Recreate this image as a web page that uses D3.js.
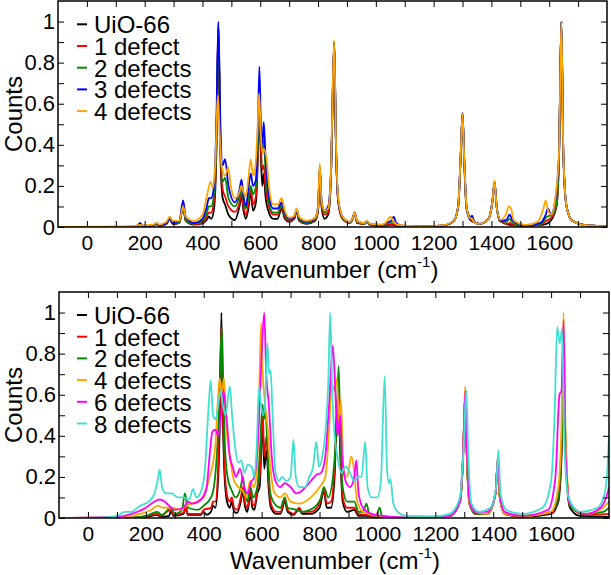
<!DOCTYPE html>
<html><head><meta charset="utf-8">
<script src="https://cdn.jsdelivr.net/npm/d3@7"></script>
<style>
body{margin:0;background:#fff}
svg{display:block}
text{font-family:"Liberation Sans",Arial,Helvetica,sans-serif;fill:#000}
</style>
</head><body>
<svg id="c" width="611" height="575"></svg>
<script>
// ---------- tick values ----------
const xMajorTicks = [0, 200, 400, 600, 800, 1000, 1200, 1400, 1600];
const xMinorTicks = [100, 300, 500, 700, 900, 1100, 1300, 1500, 1700];
const yMajorTicks = [0, 0.2, 0.4, 0.6, 0.8, 1];
const yMinorTicks = [0.1, 0.3, 0.5, 0.7, 0.9];

// ---------- top panel ----------
const topNames = ["UiO-66", "1 defect", "2 defects", "3 defects", "4 defects"];
const topColors = ["#000000", "#ff0000", "#008b00", "#0000ff", "#ffa500"];

const topUiO66 = [[-100,0],[150,0],[175,0.004],[184,0.015],[192,0.004],[230,0.006],[241,0.015],[250,0.006],[275,0.015],[287,0.04],[297,0.014],[320,0.02],[333,0.1],[342,0.03],[370,0.012],[400,0.018],[415,0.035],[422,0.05],[430,0.04],[440,0.09],[448,0.35],[455,0.96],[462,0.35],[470,0.14],[478,0.11],[490,0.06],[512,0.034],[528,0.1],[535,0.15],[542,0.08],[550,0.04],[560,0.1],[567,0.17],[575,0.08],[585,0.12],[592,0.35],[597,0.6],[602,0.35],[607,0.2],[612,0.26],[618,0.15],[630,0.07],[645,0.04],[660,0.04],[674,0.09],[685,0.04],[700,0.025],[718,0.04],[726,0.08],[734,0.03],[760,0.015],[790,0.03],[800,0.08],[806,0.29],[812,0.1],[822,0.04],[835,0.06],[845,0.25],[850,0.6],[856,0.9],[862,0.4],[870,0.12],[885,0.04],[910,0.02],[920,0.04],[927,0.07],[935,0.02],[960,0.015],[968,0.025],[980,0.01],[1020,0.005],[1055,0.012],[1080,0.004],[1150,0.002],[1230,0.006],[1270,0.03],[1285,0.1],[1293,0.32],[1300,0.55],[1306,0.32],[1314,0.09],[1330,0.03],[1360,0.015],[1390,0.04],[1403,0.12],[1411,0.22],[1418,0.1],[1430,0.03],[1463,0.01],[1520,0.005],[1570,0.01],[1590,0.015],[1610,0.04],[1625,0.1],[1634,0.35],[1642,1.0],[1649,0.35],[1660,0.1],[1680,0.03],[1720,0.01],[1800,0.003]];

const top1Defect = [[-100,0],[150,0],[175,0.004],[184,0.015],[192,0.004],[230,0.006],[241,0.015],[250,0.006],[275,0.015],[287,0.04],[297,0.015],[320,0.02],[333,0.1],[342,0.03],[370,0.014],[400,0.02],[415,0.05],[422,0.07],[430,0.07],[440,0.13],[448,0.4],[455,0.98],[462,0.4],[470,0.18],[478,0.15],[490,0.1],[512,0.074],[528,0.12],[535,0.17],[542,0.1],[550,0.06],[560,0.12],[567,0.19],[575,0.11],[585,0.15],[592,0.38],[597,0.62],[602,0.4],[607,0.28],[612,0.3],[618,0.2],[630,0.1],[645,0.06],[660,0.06],[674,0.1],[685,0.05],[700,0.03],[718,0.045],[726,0.085],[734,0.035],[760,0.018],[790,0.035],[800,0.08],[806,0.29],[812,0.11],[822,0.06],[835,0.07],[845,0.26],[850,0.6],[856,0.9],[862,0.4],[870,0.12],[885,0.04],[910,0.02],[920,0.04],[927,0.07],[935,0.02],[960,0.015],[968,0.025],[980,0.01],[1020,0.006],[1055,0.015],[1080,0.005],[1150,0.002],[1230,0.006],[1270,0.03],[1285,0.1],[1293,0.32],[1300,0.55],[1306,0.32],[1314,0.09],[1330,0.035],[1360,0.015],[1390,0.04],[1403,0.12],[1411,0.22],[1418,0.1],[1430,0.03],[1455,0.015],[1463,0.02],[1472,0.012],[1520,0.005],[1570,0.012],[1590,0.03],[1610,0.05],[1625,0.1],[1634,0.35],[1642,1.0],[1649,0.35],[1660,0.1],[1680,0.03],[1720,0.01],[1800,0.003]];

const top2Defects = [[-100,0],[150,0],[175,0.005],[184,0.016],[192,0.005],[230,0.007],[241,0.016],[250,0.007],[275,0.016],[287,0.04],[297,0.016],[320,0.022],[333,0.1],[342,0.035],[370,0.016],[400,0.03],[415,0.07],[422,0.1],[430,0.1],[440,0.16],[448,0.42],[455,0.99],[462,0.42],[470,0.22],[478,0.24],[490,0.14],[512,0.1],[528,0.15],[535,0.19],[542,0.13],[550,0.09],[560,0.15],[567,0.2],[575,0.16],[585,0.2],[592,0.4],[597,0.6],[602,0.45],[607,0.36],[612,0.42],[618,0.28],[630,0.12],[645,0.07],[660,0.07],[674,0.11],[685,0.06],[700,0.035],[718,0.05],[726,0.085],[734,0.04],[760,0.02],[790,0.04],[800,0.09],[806,0.29],[812,0.12],[822,0.07],[835,0.09],[845,0.27],[850,0.6],[856,0.9],[862,0.4],[870,0.13],[885,0.045],[910,0.022],[920,0.045],[927,0.07],[935,0.025],[960,0.016],[968,0.026],[980,0.012],[1020,0.008],[1050,0.025],[1062,0.025],[1080,0.006],[1150,0.002],[1230,0.006],[1270,0.03],[1285,0.1],[1293,0.32],[1300,0.55],[1306,0.32],[1314,0.09],[1330,0.04],[1360,0.015],[1390,0.04],[1403,0.12],[1411,0.22],[1418,0.1],[1430,0.03],[1452,0.025],[1463,0.04],[1474,0.02],[1520,0.006],[1570,0.015],[1592,0.05],[1610,0.06],[1625,0.11],[1634,0.35],[1642,1.0],[1649,0.35],[1660,0.1],[1680,0.03],[1720,0.01],[1800,0.003]];

const top3Defects = [[-100,0],[150,0],[175,0.006],[184,0.02],[192,0.006],[230,0.008],[241,0.018],[250,0.008],[275,0.018],[287,0.042],[297,0.02],[320,0.03],[333,0.13],[342,0.05],[370,0.02],[400,0.04],[415,0.1],[422,0.14],[430,0.14],[440,0.2],[448,0.5],[455,1.0],[462,0.5],[470,0.3],[478,0.33],[490,0.2],[512,0.12],[528,0.18],[535,0.23],[542,0.15],[550,0.1],[560,0.2],[567,0.26],[575,0.2],[585,0.23],[592,0.5],[597,0.78],[602,0.5],[607,0.4],[612,0.51],[618,0.35],[630,0.15],[645,0.09],[660,0.09],[674,0.12],[685,0.07],[700,0.04],[718,0.05],[726,0.085],[734,0.045],[760,0.025],[790,0.045],[800,0.1],[806,0.29],[812,0.13],[822,0.08],[835,0.1],[845,0.28],[850,0.6],[856,0.9],[862,0.4],[870,0.13],[885,0.05],[910,0.025],[920,0.045],[927,0.07],[935,0.03],[960,0.018],[968,0.028],[980,0.014],[1020,0.01],[1045,0.025],[1053,0.03],[1062,0.05],[1070,0.02],[1090,0.006],[1150,0.002],[1230,0.006],[1270,0.03],[1285,0.1],[1293,0.33],[1300,0.555],[1306,0.33],[1314,0.1],[1324,0.04],[1333,0.055],[1342,0.02],[1360,0.015],[1390,0.04],[1403,0.12],[1411,0.22],[1418,0.1],[1430,0.03],[1452,0.035],[1463,0.06],[1474,0.03],[1520,0.008],[1570,0.02],[1588,0.06],[1596,0.09],[1606,0.06],[1620,0.12],[1634,0.35],[1642,1.0],[1649,0.35],[1660,0.1],[1680,0.03],[1720,0.01],[1800,0.003]];

const top4Defects = [[-100,0],[50,0.002],[150,0.004],[175,0.008],[184,0.012],[192,0.008],[230,0.012],[241,0.02],[250,0.012],[275,0.025],[287,0.05],[297,0.03],[320,0.03],[333,0.1],[342,0.05],[370,0.03],[400,0.06],[415,0.15],[428,0.22],[436,0.19],[444,0.3],[449,0.5],[453,0.64],[458,0.5],[466,0.3],[478,0.25],[489,0.29],[498,0.2],[512,0.14],[528,0.17],[535,0.2],[542,0.17],[550,0.15],[560,0.25],[567,0.33],[575,0.25],[582,0.28],[590,0.45],[596,0.65],[602,0.45],[607,0.36],[612,0.38],[622,0.33],[630,0.2],[645,0.11],[660,0.11],[674,0.14],[685,0.08],[700,0.045],[718,0.055],[726,0.09],[734,0.05],[760,0.03],[790,0.045],[800,0.1],[806,0.31],[812,0.13],[822,0.08],[835,0.09],[845,0.28],[850,0.62],[856,0.91],[862,0.42],[870,0.14],[885,0.05],[910,0.025],[920,0.045],[927,0.07],[935,0.03],[960,0.018],[968,0.03],[980,0.015],[1020,0.012],[1040,0.03],[1050,0.05],[1060,0.03],[1075,0.01],[1150,0.003],[1230,0.008],[1270,0.03],[1285,0.1],[1293,0.33],[1300,0.55],[1306,0.33],[1314,0.1],[1324,0.045],[1333,0.04],[1342,0.02],[1360,0.015],[1390,0.04],[1403,0.12],[1411,0.225],[1418,0.1],[1430,0.035],[1450,0.06],[1460,0.1],[1468,0.09],[1478,0.03],[1520,0.01],[1560,0.025],[1580,0.09],[1588,0.13],[1596,0.08],[1608,0.06],[1620,0.13],[1634,0.36],[1642,1.0],[1649,0.36],[1660,0.1],[1680,0.03],[1720,0.01],[1800,0.003]];

// ---------- bottom panel ----------
const bottomNames = ["UiO-66", "1 defect", "2 defects", "4 defects", "6 defects", "8 defects"];
const bottomColors = ["#000000", "#ff0000", "#008b00", "#ffa500", "#ff00ff", "#40e0d0"];

const botUiO66 = [[-100,0],[150,0],[200,0.005],[240,0.015],[250,0.005],[280,0.01],[287,0.035],[295,0.01],[330,0.02],[338,0.05],[345,0.015],[390,0.015],[400,0.03],[410,0.015],[425,0.03],[432,0.06],[440,0.05],[450,0.2],[456,0.5],[461,1.0],[466,0.5],[472,0.2],[482,0.07],[490,0.05],[497,0.08],[505,0.03],[515,0.025],[528,0.08],[535,0.13],[542,0.06],[550,0.03],[556,0.07],[562,0.12],[568,0.05],[575,0.04],[585,0.12],[593,0.15],[598,0.3],[603,0.49],[609,0.24],[617,0.33],[624,0.15],[632,0.05],[650,0.02],[665,0.02],[680,0.08],[690,0.03],[710,0.015],[730,0.045],[740,0.02],[770,0.02],[800,0.05],[815,0.13],[825,0.05],[840,0.05],[852,0.2],[860,0.5],[866,0.55],[872,0.3],[880,0.08],[895,0.03],[920,0.04],[935,0.01],[960,0.01],[1000,0.003],[1100,0],[1250,0.01],[1285,0.08],[1296,0.3],[1303,0.6],[1309,0.3],[1318,0.07],[1340,0.02],[1380,0.02],[1408,0.12],[1416,0.28],[1423,0.1],[1440,0.02],[1500,0.005],[1600,0.02],[1625,0.08],[1636,0.3],[1643,0.62],[1650,0.3],[1665,0.05],[1700,0.01],[1800,0.005]];

const bot1Defect = [[-100,0],[150,0.002],[200,0.008],[240,0.02],[250,0.01],[287,0.04],[295,0.015],[330,0.025],[338,0.06],[345,0.02],[390,0.02],[400,0.04],[425,0.05],[432,0.08],[440,0.08],[450,0.25],[456,0.55],[461,0.93],[466,0.55],[472,0.25],[482,0.1],[490,0.08],[497,0.1],[505,0.05],[515,0.04],[528,0.1],[535,0.15],[542,0.08],[550,0.05],[556,0.09],[562,0.13],[568,0.07],[575,0.06],[585,0.14],[593,0.2],[598,0.35],[603,0.55],[609,0.3],[617,0.4],[624,0.2],[632,0.07],[650,0.03],[665,0.03],[680,0.09],[690,0.04],[710,0.02],[730,0.05],[740,0.03],[770,0.03],[800,0.07],[815,0.14],[825,0.07],[840,0.08],[852,0.25],[860,0.55],[866,0.6],[872,0.35],[880,0.1],[895,0.05],[920,0.05],[935,0.02],[960,0.015],[1000,0.005],[1100,0],[1250,0.01],[1285,0.08],[1296,0.3],[1303,0.6],[1309,0.3],[1318,0.07],[1340,0.02],[1380,0.02],[1408,0.12],[1416,0.29],[1423,0.1],[1440,0.02],[1500,0.008],[1600,0.025],[1625,0.1],[1636,0.35],[1643,0.8],[1650,0.35],[1665,0.06],[1720,0.015],[1800,0.02]];

const bot2Defects = [[-100,0],[150,0.002],[200,0.01],[240,0.03],[255,0.015],[287,0.05],[300,0.02],[325,0.04],[335,0.12],[345,0.05],[380,0.04],[400,0.06],[425,0.1],[435,0.15],[445,0.3],[452,0.5],[458,0.8],[463,0.92],[468,0.6],[475,0.3],[485,0.18],[495,0.14],[510,0.1],[528,0.15],[535,0.2],[542,0.13],[550,0.08],[562,0.15],[570,0.1],[585,0.15],[595,0.35],[603,0.55],[608,0.48],[613,0.53],[620,0.35],[630,0.12],[650,0.06],[665,0.05],[680,0.1],[690,0.05],[720,0.04],[740,0.03],[780,0.05],[805,0.1],[815,0.15],[830,0.1],[850,0.25],[860,0.5],[866,0.74],[872,0.4],[880,0.15],[895,0.08],[920,0.08],[935,0.03],[950,0.03],[962,0.07],[972,0.02],[995,0.01],[1008,0.05],[1016,0.01],[1100,0],[1250,0.01],[1285,0.08],[1296,0.3],[1303,0.6],[1309,0.3],[1318,0.07],[1340,0.02],[1380,0.02],[1408,0.12],[1416,0.28],[1423,0.1],[1440,0.02],[1500,0.01],[1600,0.03],[1625,0.1],[1636,0.35],[1644,0.65],[1651,0.3],[1665,0.06],[1720,0.02],[1780,0.03],[1800,0.05]];

const bot4Defects = [[-100,0],[120,0.005],[180,0.02],[220,0.04],[240,0.06],[260,0.05],[290,0.05],[320,0.04],[340,0.06],[360,0.07],[400,0.1],[420,0.2],[430,0.25],[440,0.35],[450,0.6],[455,0.68],[462,0.6],[470,0.68],[478,0.45],[490,0.3],[505,0.18],[520,0.15],[535,0.13],[548,0.1],[560,0.18],[572,0.15],[582,0.2],[590,0.5],[598,0.95],[604,0.7],[612,0.55],[620,0.45],[630,0.25],[645,0.12],[665,0.1],[680,0.12],[700,0.08],[730,0.07],[770,0.1],[800,0.15],[820,0.2],[832,0.4],[842,0.65],[852,0.62],[860,0.68],[868,0.45],[874,0.58],[882,0.25],[895,0.2],[910,0.3],[918,0.25],[930,0.08],[950,0.03],[1000,0.01],[1100,0],[1250,0.01],[1285,0.08],[1296,0.32],[1303,0.64],[1309,0.3],[1318,0.07],[1340,0.03],[1380,0.02],[1408,0.12],[1416,0.3],[1423,0.1],[1440,0.02],[1500,0.01],[1600,0.03],[1625,0.15],[1636,0.45],[1643,1.0],[1650,0.4],[1665,0.07],[1720,0.02],[1780,0.05],[1800,0.08]];

const bot6Defects = [[-100,0],[100,0.005],[150,0.02],[200,0.05],[230,0.08],[248,0.09],[265,0.08],[280,0.06],[300,0.04],[330,0.05],[345,0.08],[360,0.07],[390,0.09],[410,0.15],[420,0.3],[430,0.42],[440,0.43],[450,0.4],[460,0.5],[468,0.62],[478,0.5],[490,0.3],[500,0.25],[512,0.2],[525,0.24],[540,0.15],[552,0.12],[562,0.17],[575,0.2],[590,0.45],[600,0.8],[609,1.0],[616,0.7],[625,0.55],[635,0.3],[648,0.18],[665,0.15],[680,0.17],[700,0.15],[720,0.12],[745,0.14],[770,0.18],[789,0.21],[805,0.22],[820,0.3],[835,0.6],[846,0.84],[855,0.6],[862,0.4],[872,0.5],[878,0.3],[890,0.18],[905,0.15],[920,0.2],[927,0.28],[935,0.12],[950,0.05],[980,0.02],[1050,0.005],[1150,0],[1250,0.01],[1285,0.08],[1296,0.32],[1304,0.62],[1310,0.3],[1320,0.07],[1340,0.03],[1380,0.03],[1408,0.12],[1417,0.3],[1424,0.1],[1440,0.03],[1500,0.01],[1590,0.04],[1615,0.2],[1629,0.6],[1636,0.62],[1643,0.96],[1650,0.3],[1665,0.07],[1720,0.02],[1770,0.05],[1790,0.1],[1800,0.15]];

const bot8Defects = [[-100,0],[60,0.003],[100,0.01],[128,0.03],[150,0.03],[180,0.06],[210,0.08],[230,0.12],[240,0.18],[248,0.235],[256,0.15],[270,0.12],[290,0.12],[310,0.1],[330,0.1],[350,0.09],[363,0.14],[375,0.1],[395,0.15],[405,0.25],[415,0.5],[424,0.67],[432,0.5],[441,0.48],[450,0.55],[458,0.62],[466,0.55],[475,0.5],[490,0.64],[498,0.5],[508,0.35],[520,0.27],[530,0.28],[540,0.22],[552,0.26],[565,0.25],[575,0.2],[583,0.35],[591,0.64],[598,0.55],[606,0.5],[613,0.6],[620,0.85],[626,0.7],[631,0.72],[638,0.5],[648,0.22],[660,0.18],[670,0.2],[685,0.18],[700,0.2],[710,0.38],[718,0.2],[730,0.15],[750,0.15],[765,0.2],[778,0.25],[789,0.37],[798,0.25],[810,0.3],[822,0.45],[830,0.65],[837,1.0],[844,0.6],[852,0.4],[862,0.3],[875,0.22],[890,0.25],[905,0.22],[920,0.18],[935,0.2],[945,0.2],[958,0.37],[966,0.15],[980,0.1],[1000,0.1],[1012,0.18],[1025,0.69],[1033,0.25],[1040,0.17],[1045,0.19],[1055,0.07],[1070,0.03],[1100,0.01],[1200,0.008],[1250,0.02],[1285,0.1],[1298,0.35],[1307,0.62],[1314,0.3],[1325,0.07],[1350,0.03],[1390,0.05],[1410,0.15],[1418,0.33],[1425,0.12],[1445,0.04],[1500,0.02],[1570,0.05],[1600,0.18],[1612,0.5],[1621,0.93],[1630,0.85],[1638,0.92],[1646,0.35],[1660,0.1],[1700,0.03],[1760,0.05],[1785,0.12],[1795,0.25],[1800,0.4]];

const topSeries = [topUiO66, top1Defect, top2Defects, top3Defects, top4Defects];
const bottomSeries = [botUiO66, bot1Defect, bot2Defects, bot4Defects, bot6Defects, bot8Defects];

// ---------- drawing ----------
const svg = d3.select("#c");
const FONT = '"Liberation Sans",Arial,Helvetica,sans-serif';

const panels = [
  {series: topSeries, names: topNames, colors: topColors, left: 58, right: 607, top: 1, bottom: 227, legendBase: 33.3},
  {series: bottomSeries, names: bottomNames, colors: bottomColors, left: 59, right: 609, top: 292, bottom: 518, legendBase: 324}
];

const yFmt = d => d === 0 ? "0" : d === 1 ? "1" : d3.format(".1f")(d);

panels.forEach((p, pi) => {
  const x = d3.scaleLinear().domain([-100, 1800]).range([p.left, p.right]);
  const y = d3.scaleLinear().domain([0, 1.1]).range([p.bottom, p.top]);
  const g = svg.append("g");
  const clipId = "clip" + pi;
  g.append("clipPath").attr("id", clipId).append("rect")
    .attr("x", p.left).attr("y", p.top).attr("width", p.right - p.left).attr("height", p.bottom - p.top);

  const line = d3.line().x(d => x(d[0])).y(d => y(d[1])).curve(d3.curveMonotoneX);
  p.series.forEach((s, i) => {
    g.append("path").attr("d", line(s)).attr("fill", "none")
      .attr("stroke", p.colors[i]).attr("stroke-width", 1.8)
      .attr("stroke-linejoin", "round")
      .attr("clip-path", `url(#${clipId})`);
  });

  const addAxis = (axis, tx, ty, fs) => {
    const a = g.append("g").attr("transform", `translate(${tx},${ty})`).call(axis);
    a.select(".domain").remove();
    a.selectAll(".tick line").attr("stroke", "#000").attr("stroke-width", 1);
    a.attr("font-family", FONT).attr("font-size", fs || 10);
    a.selectAll("text").attr("fill", "#000");
    return a;
  };
  addAxis(d3.axisBottom(x).tickValues(xMajorTicks).tickSize(-6).tickPadding(8).tickFormat(d3.format("d")), 0, p.bottom, 21);
  addAxis(d3.axisBottom(x).tickValues(xMinorTicks).tickSize(-6).tickFormat(""), 0, p.bottom);
  addAxis(d3.axisTop(x).tickValues(xMajorTicks.concat(xMinorTicks)).tickSize(-6).tickFormat(""), 0, p.top);
  addAxis(d3.axisLeft(y).tickValues(yMajorTicks).tickSize(-6).tickPadding(3).tickFormat(yFmt), p.left, 0, 22);
  addAxis(d3.axisLeft(y).tickValues(yMinorTicks).tickSize(-6).tickFormat(""), p.left, 0);
  addAxis(d3.axisRight(y).tickValues(yMajorTicks.concat(yMinorTicks)).tickSize(-6).tickFormat(""), p.right, 0);

  g.append("rect").attr("x", p.left).attr("y", p.top)
    .attr("width", p.right - p.left).attr("height", p.bottom - p.top)
    .attr("fill", "none").attr("stroke", "#000").attr("stroke-width", 1.5);

  // y title
  g.append("text").attr("transform", `translate(${22},${(p.top + p.bottom) / 2}) rotate(-90)`)
    .attr("text-anchor", "middle").attr("font-size", 24).text("Counts");

  // x title
  const xt = g.append("text").attr("x", (p.left + p.right) / 2 + 1).attr("y", p.bottom + 51)
    .attr("text-anchor", "middle").attr("font-size", 24);
  xt.append("tspan").text("Wavenumber (cm");
  xt.append("tspan").attr("font-size", 15).attr("dy", -11).text("-1");
  xt.append("tspan").attr("dy", 11).text(")");

  // legend
  p.names.forEach((n, i) => {
    const by = p.legendBase + i * 21.7;
    g.append("line").attr("x1", 77).attr("x2", 87).attr("y1", by - 9).attr("y2", by - 9)
      .attr("stroke", p.colors[i]).attr("stroke-width", 2);
    g.append("text").attr("x", 94).attr("y", by).attr("font-size", 24).text(n);
  });
});
</script>
</body></html>
